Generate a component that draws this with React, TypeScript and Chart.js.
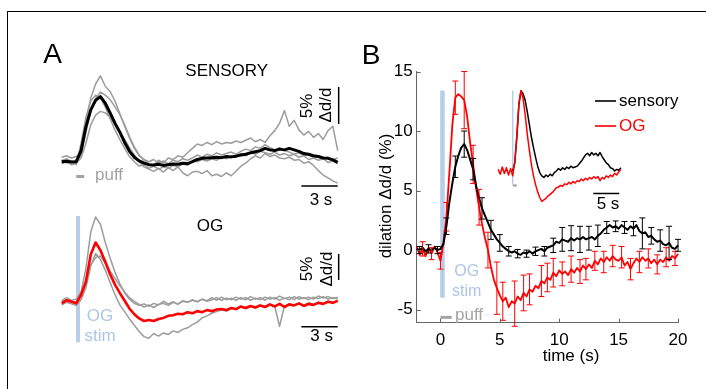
import React, { useEffect, useRef } from "react";
import { Chart, registerables } from "chart.js";

Chart.register(...registerables);

const FONT = "'Liberation Sans', Arial, Helvetica, sans-serif";
const RED = "#ff0000";
const GRAY = "#9c9c9c";
const BLUE = "#b7cde9";
const BLUE_TEXT = "#adc5e6";
const PUFF_GRAY = "#a3a3a3";
const AXIS = "#666666";

// ---------------- Panel A (time in s from stimulus, dilation in %) ----------------
const aTime = [
  -1.2, -0.8, -0.4, 0,
  0.4, 0.8, 1.2, 1.6, 2.0, 2.4, 2.8, 3.2, 3.6, 4.0,
  4.4, 4.8, 5.2, 5.6, 6.0, 6.4, 6.8, 7.2, 7.6, 8.0,
  8.4, 8.8, 9.2, 9.6, 10.0, 10.4, 10.8, 11.2, 11.6, 12.0,
  12.4, 12.8, 13.2, 13.6, 14.0, 14.4, 14.8, 15.2, 15.6, 16.0,
  16.4, 16.8, 17.2, 17.6, 18.0, 18.4, 18.8, 19.2, 19.6, 20.0,
  20.4, 20.8, 21.2, 21.6,
];

const aSensoryMean = [
  0.0, 0.05, -0.05, 0.0,
  1.5, 4.7, 7.0, 8.3, 8.8, 7.9, 6.6, 5.2, 4.0, 2.6,
  1.4, 0.6, 0.1, -0.2, -0.4, -0.45, -0.35, -0.5, -0.4, -0.3,
  -0.35, -0.2, -0.25, 0.0, 0.3, 0.45, 0.5, 0.55, 0.6, 0.55,
  0.7, 0.65, 0.75, 0.9, 1.0, 1.2, 1.35, 1.5, 1.8, 1.6,
  1.5, 1.7, 1.6, 1.8, 1.6, 1.4, 1.1, 1.0, 0.8, 0.7,
  0.5, 0.45, 0.25, -0.1,
];
const aSensoryTrial1 = [
  0.6, 0.8, 0.5, 0.7,
  1.2, 5.5, 8.6, 10.5, 11.6, 10.2, 9.5, 8.2, 6.5, 4.8,
  3.2, 1.8, 0.8, 0.2, -0.3, -0.5, 0.2, -0.2, 0.5, 0.3,
  0.8, 0.6, 1.2, 1.8, 2.4, 2.2, 2.6, 2.3, 2.7, 2.4,
  2.6, 2.5, 2.8, 2.6, 2.9, 3.2, 2.7, 3.0, 2.6, 3.5,
  4.2, 5.2, 6.9, 4.8, 5.6, 4.3, 3.6, 4.1, 3.3, 3.8,
  3.0, 4.2, 4.8, 1.5,
];
const aSensoryTrial2 = [
  -0.3, 0.0, -0.4, -0.2,
  0.5, 2.5, 5.0, 6.3, 6.8, 6.6, 6.0, 5.1, 4.1, 3.0,
  1.9, 0.9, 0.0, -0.7, -1.0, -1.3, -0.9, -1.4, -0.8, -1.2,
  -0.7, -1.5, -1.9, -1.4, -1.3, -1.6, -1.2, -1.9, -1.7, -2.0,
  -1.5, -1.9, -1.3, -0.6, -0.2, 0.4, 0.8, 0.5, 1.1, 0.7,
  0.9, 0.5, 0.4, 0.6, 0.2, 0.3, -0.2, 0.0, -0.5, -1.2,
  -1.8, -2.2, -2.6, -2.9,
];
const aSensoryTrial3 = [
  0.3, -0.2, 0.1, -0.4,
  2.5, 6.0, 8.2, 9.0, 8.6, 7.4, 5.8, 4.3, 3.0, 1.8,
  0.7, 0.0, -0.6, -0.4, -0.9, -0.6, -1.0, -0.7, -0.9, -0.5,
  -0.7, -0.3, -0.5, 0.1, 0.0, 0.3, 0.1, 0.4, 0.2, 0.6,
  0.4, 0.8, 0.6, 1.1, 0.8, 1.3, 1.0, 1.4, 1.2, 1.0,
  1.3, 0.9, 1.1, 0.8, 1.0, 0.6, 0.8, 0.3, 0.5, 0.2,
  0.4, -0.1, 0.1, -0.3,
];
const aSensoryTrial4 = [
  0.1, 0.4, 0.0, 0.2,
  0.8, 4.0, 6.8, 8.5, 9.4, 9.0, 8.4, 7.4, 6.4, 5.0,
  3.4, 2.0, 0.9, 0.3, 0.0, 0.3, -0.2, 0.1, -0.3, 0.2,
  0.0, 0.4, 0.2, 0.5, 0.9, 0.6, 1.0, 0.8, 1.2, 0.9,
  1.1, 1.3, 1.0, 1.4, 1.7, 1.5, 2.0, 1.8, 2.3, 1.9,
  1.6, 1.9, 1.5, 1.3, 1.0, 1.2, 0.8, 0.9, 0.6, 0.7,
  0.4, 0.6, 0.3, 0.5,
];

const aOgMean = [
  -0.2, 0.4, 0.1, -0.2,
  1.4, 4.0, 9.2, 11.5, 10.0, 7.8, 5.4, 3.4, 1.8, 0.3,
  -1.2, -2.3, -3.1, -3.6, -3.4, -3.6, -3.2, -3.0, -2.6, -2.5,
  -2.2, -2.3, -1.9, -2.1, -1.7, -1.9, -1.5, -1.7, -1.4, -1.3,
  -1.5, -1.1, -1.3, -0.8, -1.1, -0.7, -1.0, -0.6, -0.9, -0.4,
  -0.8, -0.3, -0.9, -0.4, -0.6, -0.2, -0.7, -0.3, -0.5, -0.1,
  -0.3, 0.1, -0.1, 0.3,
];
const aOgTrial1 = [
  0.3, 0.9, 0.4, 0.6,
  2.0, 6.5, 13.5, 16.4, 15.0, 11.5, 8.5, 5.8, 3.6, 1.8,
  0.6, -0.2, -0.6, -0.3, -0.8, -0.2, -0.5, 0.2, -0.3, 0.1,
  -0.4, 0.3, 0.0, 0.5, 0.1, 0.6, 0.3, 0.9, 0.4, 1.0,
  0.5, 0.8, 0.4, 0.9, 0.5, 1.1, 0.6, 0.9, 0.4, 1.0,
  0.6, 1.2, 0.7, 1.0, 0.5, 1.1, 0.7, 1.0, 0.6, 1.2,
  0.8, 1.1, 0.7, 1.0,
];
const aOgTrial2 = [
  -0.5, 0.0, -0.3, -0.6,
  0.5, 2.8, 7.0, 9.4, 8.2, 6.2, 3.8, 1.5, -0.5, -1.8,
  -3.2, -4.4, -5.6, -6.6, -6.9, -6.0, -6.5, -5.9, -6.2, -5.5,
  -5.8, -5.2, -4.9, -4.3, -3.8, -3.0, -2.6, -2.1, -1.8, -1.5,
  -1.7, -1.2, -1.4, -0.9, -1.2, -0.8, -1.1, -0.6, -0.9, -0.5,
  -0.8, -4.6, -0.7, -0.3, -0.6, -0.2, -0.5, -0.1, -0.4, 0.0,
  -0.3, 0.2, -0.1, 0.3,
];
const aOgTrial3 = [
  0.1, 0.5, 0.2, 0.0,
  1.8, 3.5, 7.2, 8.6, 8.9, 7.5, 6.0, 4.6, 3.2, 2.0,
  0.9, 0.2, -0.4, -0.9, -0.5, -1.0, -0.4, -0.2, -0.6, 0.0,
  -0.3, 0.2, 0.0, 0.4, 0.1, 0.6, 0.2, 0.5, 0.9, 0.4,
  0.8, 0.5, 1.0, 0.6, 0.9, 0.4, 0.8, 0.5, 1.0, 0.6,
  0.9, 0.4, 0.8, 0.5, 1.1, 0.6, 0.9, 0.5, 1.0, 0.7,
  1.1, 0.6, 0.9, 0.7,
];

// scale bars and stimulus markers of panel A
const aTimeBar = [18.6, 21.6]; // 3 s
const aBarTime = 21.68;
const aTopPctBar = [5.1, 10.1]; // 5 %
const aTopTimeBarLevel = -3.3;
const aBottomPctBar = [4.3, 9.3]; // 5 %
const aBottomTimeBarLevel = -4.7;
const aPuffTime = [0, 0.66];
const aPuffLevel = -2.0;
const aStimTime = 0.15;
const aStimSpan = [-7.7, 16.6];

// ---------------- Panel B ----------------
const bTime = [
  -2, -1.75, -1.5, -1.25, -1, -0.75, -0.5, -0.25,
  0, 0.25, 0.5, 0.75, 1, 1.25, 1.5, 1.75,
  2, 2.25, 2.5, 2.75, 3, 3.25, 3.5, 3.75,
  4, 4.25, 4.5, 4.75, 5, 5.25, 5.5, 5.75,
  6, 6.25, 6.5, 6.75, 7, 7.25, 7.5, 7.75,
  8, 8.25, 8.5, 8.75, 9, 9.25, 9.5, 9.75,
  10, 10.25, 10.5, 10.75, 11, 11.25, 11.5, 11.75,
  12, 12.25, 12.5, 12.75, 13, 13.25, 13.5, 13.75,
  14, 14.25, 14.5, 14.75, 15, 15.25, 15.5, 15.75,
  16, 16.25, 16.5, 16.75, 17, 17.25, 17.5, 17.75,
  18, 18.25, 18.5, 18.75, 19, 19.25, 19.5, 19.75,
  20,
];
const bSensory = [
  0.1, 0.0, 0.2, -0.1, 0.1, 0.0, 0.2, 0.0,
  0.1, 0.5, 2.0, 4.0, 5.6, 7.0, 7.9, 8.6,
  8.9, 8.4, 7.6, 6.8, 5.4, 4.4, 3.5, 2.9,
  2.3, 1.7, 1.3, 0.9, 0.6, 0.3, 0.1, -0.1,
  -0.2, -0.1, -0.3, -0.4, -0.2, -0.3, -0.1, -0.3,
  -0.1, 0.0, 0.1, -0.1, 0.2, 0.3, 0.4, 0.7,
  0.6, 0.9, 0.8, 0.7, 1.0, 0.8, 1.0, 0.9,
  1.1, 0.9, 1.0, 1.1, 0.9, 1.2, 1.4, 1.7,
  1.9, 2.1, 1.9, 2.0, 1.8, 2.1, 1.9, 1.7,
  2.0, 1.8, 2.1, 1.6, 1.4, 1.5, 1.1, 1.2,
  0.9, 0.7, 0.8, 0.5, 0.4, 0.6, 0.2, 0.1,
  0.4,
];
const bOg = [
  0.3, -0.4, 0.1, -0.5, 0.2, -0.3, 0.3, -0.2,
  -0.9, 0.6, 2.8, 6.5, 10.5, 12.8, 13.1, 12.9,
  12.6, 11.2, 9.0, 7.2, 5.2, 3.6, 2.2, 1.0,
  0.0, -1.4, -2.5, -3.2, -3.8, -4.3, -4.0, -4.8,
  -4.3, -4.5, -3.9, -4.2, -3.6, -3.9, -3.3, -3.5,
  -3.0, -3.2, -2.6, -2.8, -2.3, -2.5, -1.9, -2.2,
  -1.7, -2.0, -1.8, -2.1, -1.6, -1.9, -1.5, -1.8,
  -1.3, -1.6, -1.2, -1.5, -0.9, -1.2, -0.7, -1.0,
  -0.6, -0.9, -0.5, -0.8, -0.9, -0.6, -1.3, -1.0,
  -1.6, -1.1, -0.7, -1.0, -0.6, -0.9, -0.7, -1.1,
  -0.8, -1.2, -0.8, -1.0, -0.6, -0.9, -0.5, -0.7,
  -0.3,
];
const bSensoryErrTime = [
  -1.75, -1, -0.25, 0.5, 1.25, 2, 2.75, 3.5, 4.25, 5,
  5.75, 6.5, 7.25, 8, 8.75, 9.5, 10.25, 11, 11.75, 12.5,
  13.25, 14, 14.75, 15.5, 16.25, 17, 17.75, 18.5, 19.25, 20,
];
const bSensoryErr = [
  0.3, 0.35, 0.3, 0.7, 0.9, 1.1, 0.9, 0.9, 0.8, 0.7,
  0.4, 0.35, 0.3, 0.35, 0.4, 0.6, 1.0, 1.05, 1.1, 1.0,
  0.9, 0.5, 0.45, 0.5, 0.6, 1.3, 0.7, 0.9, 1.4, 0.5,
];
const bOgErrTime = [
  -1.5, -0.75, 0, 0.5, 1.25, 2, 2.75, 3.25, 4, 4.75,
  5.25, 6.25, 7, 7.5, 8.5, 9, 9.5, 10.25, 11, 11.75,
  12.25, 13, 13.75, 14.5, 15.25, 16, 16.75, 17.5, 18.25, 19,
  19.75,
];
const bOgErr = [
  0.6, 0.5, 0.7, 1.2, 1.4, 2.4, 1.6, 1.5, 1.5, 2.2,
  1.6, 1.9, 1.5, 1.3, 1.3, 1.2, 1.2, 1.0, 1.1, 1.0,
  0.9, 0.8, 0.9, 0.9, 0.9, 0.9, 0.9, 0.8, 0.8, 0.8,
  0.6,
];
const bXTicks = [0, 5, 10, 15, 20];
const bYTicks = [-5, 0, 5, 10, 15];
const bStimTime = 0.17;
const bStimSpan = [-4, 13.4];
const bPuffTime = [0, 0.95];
const bPuffLevel = -5.65;
const legendLabels = ["sensory", "OG"];

// ---------------- Inset (normalized to peak) ----------------
const insetTime = [
  -2.8, -2.4, -2.0, -1.6, -1.2, -0.8, -0.4, 0.0, 0.4, 0.8,
  1.2, 1.6, 2.0, 2.4, 2.8, 3.2, 3.6, 4.0, 4.4, 4.8,
  5.2, 5.6, 6.0, 6.4, 6.8, 7.2, 7.6, 8.0, 8.4, 8.8,
  9.2, 9.6, 10.0, 10.4, 10.8, 11.2, 11.6, 12.0, 12.4, 12.8,
  13.2, 13.6, 14.0, 14.4, 14.8, 15.2, 15.6, 16.0, 16.4, 16.8,
  17.2, 17.6, 18.0, 18.4, 18.8, 19.2, 19.6, 20.0, 20.4, 20.8,
];
const insetOg = [
  0.02, -0.04, 0.05, -0.03, 0.04, -0.05, 0.03, -0.06, 0.12, 0.45,
  0.85, 1.0, 0.9, 0.7, 0.46, 0.26, 0.08, -0.06, -0.17, -0.26,
  -0.33, -0.38, -0.36, -0.34, -0.31, -0.29, -0.27, -0.24, -0.21, -0.2,
  -0.18, -0.19, -0.16, -0.17, -0.14, -0.16, -0.13, -0.15, -0.12, -0.13,
  -0.1, -0.12, -0.09, -0.11, -0.08, -0.1, -0.07, -0.09, -0.07, -0.12,
  -0.08, -0.1, -0.06, -0.08, -0.05, -0.07, -0.03, -0.05, -0.01, 0.02,
];
const insetSensory = [
  null, null, null, null, null, null, null, 0.0, 0.1, 0.42,
  0.83, 1.0, 0.96, 0.88, 0.74, 0.58, 0.42, 0.29, 0.17, 0.06,
  -0.02, -0.06, -0.08, -0.05, -0.07, -0.04, -0.06, -0.02, 0.0, 0.03,
  0.01, 0.04, 0.02, 0.05, 0.03, 0.06, 0.04, 0.05, 0.06, 0.09,
  0.12, 0.16, 0.2, 0.22, 0.19, 0.23, 0.2, 0.22, 0.19, 0.23,
  0.18, 0.14, 0.1, 0.08, 0.04, 0.03, 0.0, 0.02, 0.01, 0.04,
];
const insetTimeBar = [15.5, 20.5]; // 5 s
const insetTimeBarLevel = -0.28;
const insetStimSpan = [-0.17, 1.0];
const insetPuffTime = [0, 0.8];
const insetPuffLevel = -0.18;

// ---------------- helpers ----------------
function lineDs(xs: number[], ys: (number | null)[], color: string, width: number): any {
  return {
    data: xs.map((x, i) => ({ x, y: ys[i] })),
    borderColor: color,
    borderWidth: width,
    pointRadius: 0,
    tension: 0,
    clip: false,
    borderCapStyle: "butt",
    borderJoinStyle: "round",
    spanGaps: false,
  };
}

function segDs(x1: number, y1: number, x2: number, y2: number, color: string, width: number): any {
  return lineDs([x1, x2], [y1, y2], color, width);
}

function bareOptions(pad: any, xMin: number, xMax: number, yMin: number, yMax: number): any {
  return {
    responsive: false,
    animation: false,
    events: [],
    layout: { padding: pad },
    plugins: { legend: { display: false }, tooltip: { enabled: false } },
    scales: {
      x: { type: "linear", min: xMin, max: xMax, display: false },
      y: { type: "linear", min: yMin, max: yMax, display: false },
    },
  };
}

type Txt = { t: string; x: number; y: number; size?: number; color?: string; align?: CanvasTextAlign; rot?: boolean };

function textPlugin(id: string, items: Txt[]): any {
  return {
    id,
    afterDraw(chart: any) {
      const ctx = chart.ctx;
      items.forEach((it) => {
        ctx.save();
        ctx.font = `${it.size ?? 17}px ${FONT}`;
        ctx.fillStyle = it.color ?? "#000";
        ctx.textAlign = it.align ?? "center";
        ctx.textBaseline = "middle";
        ctx.translate(it.x, it.y);
        if (it.rot) ctx.rotate(-Math.PI / 2);
        ctx.fillText(it.t, 0, 0);
        ctx.restore();
      });
    },
  };
}

const errorBarPlugin: any = {
  id: "errorBars",
  afterDatasetsDraw(chart: any) {
    const xs = chart.scales.x;
    const ys = chart.scales.y;
    const ctx = chart.ctx;
    const draw = (times: number[], sizes: number[], series: number[], color: string) => {
      ctx.save();
      ctx.strokeStyle = color;
      ctx.lineWidth = 1;
      ctx.beginPath();
      times.forEach((t, k) => {
        const i = bTime.indexOf(t);
        if (i < 0) return;
        const v = series[i];
        const px = xs.getPixelForValue(t);
        const top = ys.getPixelForValue(v + sizes[k]);
        const bot = ys.getPixelForValue(v - sizes[k]);
        ctx.moveTo(px, top);
        ctx.lineTo(px, bot);
        ctx.moveTo(px - 3, top);
        ctx.lineTo(px + 3, top);
        ctx.moveTo(px - 3, bot);
        ctx.lineTo(px + 3, bot);
      });
      ctx.stroke();
      ctx.restore();
    };
    draw(bOgErrTime, bOgErr, bOg, RED);
    draw(bSensoryErrTime, bSensoryErr, bSensory, "#000");
  },
};

const innerTicksPlugin: any = {
  id: "innerTicks",
  afterDraw(chart: any) {
    const { ctx, chartArea } = chart;
    const x = chart.scales.x;
    const y = chart.scales.y;
    ctx.save();
    ctx.strokeStyle = AXIS;
    ctx.lineWidth = 1;
    ctx.beginPath();
    bXTicks.forEach((v) => {
      const px = Math.round(x.getPixelForValue(v)) + 0.5;
      ctx.moveTo(px, chartArea.bottom);
      ctx.lineTo(px, chartArea.bottom - 4);
    });
    bYTicks.forEach((v) => {
      const py = Math.round(y.getPixelForValue(v)) + 0.5;
      ctx.moveTo(chartArea.left, py);
      ctx.lineTo(chartArea.left + 4, py);
    });
    ctx.stroke();
    ctx.restore();
  },
};

const legendPlugin: any = {
  id: "bLegend",
  afterDraw(chart: any) {
    const ctx = chart.ctx;
    const colors = ["#000", RED];
    legendLabels.forEach((label, i) => {
      const y = 101 + i * 25;
      ctx.save();
      ctx.strokeStyle = colors[i];
      ctx.lineWidth = 1.6;
      ctx.beginPath();
      ctx.moveTo(595, y);
      ctx.lineTo(616, y);
      ctx.stroke();
      ctx.font = `17px ${FONT}`;
      ctx.fillStyle = colors[i];
      ctx.textAlign = "left";
      ctx.textBaseline = "middle";
      ctx.fillText(label, 619, y);
      ctx.restore();
    });
  },
};

const figureTexts: Txt[] = [
  { t: "A", x: 52.5, y: 55.5, size: 28 },
  { t: "B", x: 371, y: 56, size: 28 },
  { t: "SENSORY", x: 226.7, y: 71.7 },
  { t: "OG", x: 210, y: 226.7 },
  { t: "puff", x: 95, y: 175.7, color: PUFF_GRAY, align: "left" },
  { t: "5%", x: 307, y: 106, rot: true },
  { t: "Δd/d", x: 326, y: 105, rot: true },
  { t: "3 s", x: 321, y: 200 },
  { t: "5%", x: 307, y: 269, rot: true },
  { t: "Δd/d", x: 327.5, y: 269, rot: true },
  { t: "3 s", x: 321.7, y: 336.7 },
  { t: "OG", x: 100, y: 316.7, color: BLUE_TEXT },
  { t: "stim", x: 100, y: 336.7, color: BLUE_TEXT },
  { t: "OG", x: 466.7, y: 271.7, color: BLUE_TEXT, size: 16 },
  { t: "stim", x: 466.7, y: 291.7, color: BLUE_TEXT, size: 16 },
  { t: "puff", x: 455, y: 315, color: PUFF_GRAY, align: "left" },
  { t: "dilation Δd/d (%)", x: 386, y: 196, rot: true },
  { t: "time (s)", x: 571, y: 356 },
  { t: "5 s", x: 608, y: 204 },
];

// ---------------- chart configs ----------------
function aTopConfig(): any {
  return {
    type: "line",
    data: {
      datasets: [
        lineDs(aTime, aSensoryMean, "#000", 3),
        lineDs(aTime, aSensoryTrial1, GRAY, 1.5),
        lineDs(aTime, aSensoryTrial2, GRAY, 1.5),
        lineDs(aTime, aSensoryTrial3, GRAY, 1.5),
        lineDs(aTime, aSensoryTrial4, GRAY, 1.5),
        segDs(aBarTime, aTopPctBar[0], aBarTime, aTopPctBar[1], "#000", 1.5),
        segDs(aTimeBar[0], aTopTimeBarLevel, aTimeBar[1], aTopTimeBarLevel, "#000", 1.5),
        segDs(aPuffTime[0], aPuffLevel, aPuffTime[1], aPuffLevel, PUFF_GRAY, 3),
      ],
    },
    options: bareOptions({ left: 61.7, right: 368.3, top: 72.9, bottom: 197.7 }, -1.2, 21.6, -4, 12),
  };
}

function aBottomConfig(): any {
  return {
    type: "line",
    data: {
      datasets: [
        lineDs(aTime, aOgMean, RED, 2.6),
        lineDs(aTime, aOgTrial1, GRAY, 1.5),
        lineDs(aTime, aOgTrial2, GRAY, 1.5),
        lineDs(aTime, aOgTrial3, GRAY, 1.5),
        segDs(aBarTime, aBottomPctBar[0], aBarTime, aBottomPctBar[1], "#000", 1.5),
        segDs(aTimeBar[0], aBottomTimeBarLevel, aTimeBar[1], aBottomTimeBarLevel, "#000", 1.5),
        segDs(aStimTime, aStimSpan[0], aStimTime, aStimSpan[1], BLUE, 4),
      ],
    },
    options: bareOptions({ left: 61.7, right: 368.3, top: 208.7, bottom: 45.1 }, -1.2, 21.6, -8, 18),
  };
}

function insetConfig(): any {
  return {
    type: "line",
    data: {
      datasets: [
        lineDs(insetTime, insetOg, RED, 1.5),
        lineDs(insetTime, insetSensory, "#000", 1.5),
        segDs(0, insetStimSpan[0], 0, insetStimSpan[1], BLUE, 1.5),
        segDs(insetPuffTime[0], insetPuffLevel, insetPuffTime[1], insetPuffLevel, GRAY, 2),
        segDs(insetTimeBar[0], insetTimeBarLevel, insetTimeBar[1], insetTimeBarLevel, "#000", 1.5),
      ],
    },
    options: bareOptions({ left: 497.1, right: 81, top: 82.65, bottom: 177.85 }, -3, 21.6, -0.5, 1.1),
  };
}

function bConfig(): any {
  const tickFont = { family: FONT, size: 17 };
  return {
    type: "line",
    data: {
      datasets: [
        lineDs(bTime, bSensory, "#000", 2),
        lineDs(bTime, bOg, RED, 1.8),
        segDs(bStimTime, bStimSpan[0], bStimTime, bStimSpan[1], BLUE, 4.5),
        segDs(bPuffTime[0], bPuffLevel, bPuffTime[1], bPuffLevel, PUFF_GRAY, 3),
      ],
    },
    options: {
      responsive: false,
      animation: false,
      events: [],
      layout: { padding: { left: 380, top: 71.5, right: 28, bottom: 36.3 } },
      plugins: { legend: { display: false }, tooltip: { enabled: false } },
      scales: {
        x: {
          type: "linear",
          min: -2,
          max: 20,
          afterBuildTicks: (s: any) => {
            s.ticks = bXTicks.map((v) => ({ value: v }));
          },
          afterFit: (s: any) => {
            s.height = 30;
          },
          grid: { display: true, drawOnChartArea: false, drawTicks: false },
          border: { display: true, color: AXIS, width: 1 },
          ticks: { font: tickFont, color: "#000", padding: 7, maxRotation: 0, autoSkip: false, callback: (v: any) => String(v) },
        },
        y: {
          type: "linear",
          min: -6.1,
          max: 15,
          afterBuildTicks: (s: any) => {
            s.ticks = bYTicks.map((v) => ({ value: v }));
          },
          afterFit: (s: any) => {
            s.width = 36.7;
          },
          grid: { display: true, drawOnChartArea: false, drawTicks: false },
          border: { display: true, color: AXIS, width: 1 },
          ticks: { font: tickFont, color: "#000", padding: 4, autoSkip: false, callback: (v: any) => String(v) },
        },
      },
    },
    plugins: [errorBarPlugin, innerTicksPlugin, legendPlugin, textPlugin("figTexts", figureTexts)],
  };
}

const canvasStyle: React.CSSProperties = { position: "absolute", left: 0, top: 0, width: 706, height: 389, display: "block" };

export default function App() {
  const aTopRef = useRef<HTMLCanvasElement>(null);
  const aBotRef = useRef<HTMLCanvasElement>(null);
  const insetRef = useRef<HTMLCanvasElement>(null);
  const bRef = useRef<HTMLCanvasElement>(null);

  useEffect(() => {
    Chart.defaults.font.family = FONT;
    const charts = [
      new Chart(aTopRef.current as HTMLCanvasElement, aTopConfig()),
      new Chart(aBotRef.current as HTMLCanvasElement, aBottomConfig()),
      new Chart(insetRef.current as HTMLCanvasElement, insetConfig()),
      new Chart(bRef.current as HTMLCanvasElement, bConfig()),
    ];
    return () => charts.forEach((c) => c.destroy());
  }, []);

  return (
    <div style={{ position: "absolute", left: 0, top: 0, width: 706, height: 389, overflow: "hidden", background: "#fff" }}>
      <div
        style={{
          position: "absolute",
          left: 7,
          top: 11,
          width: 760,
          height: 420,
          border: "1px solid #000",
          boxSizing: "border-box",
        }}
      />
      <canvas ref={aTopRef} width={706} height={389} style={canvasStyle} />
      <canvas ref={aBotRef} width={706} height={389} style={canvasStyle} />
      <canvas ref={insetRef} width={706} height={389} style={canvasStyle} />
      <canvas ref={bRef} width={706} height={389} style={canvasStyle} />
    </div>
  );
}
